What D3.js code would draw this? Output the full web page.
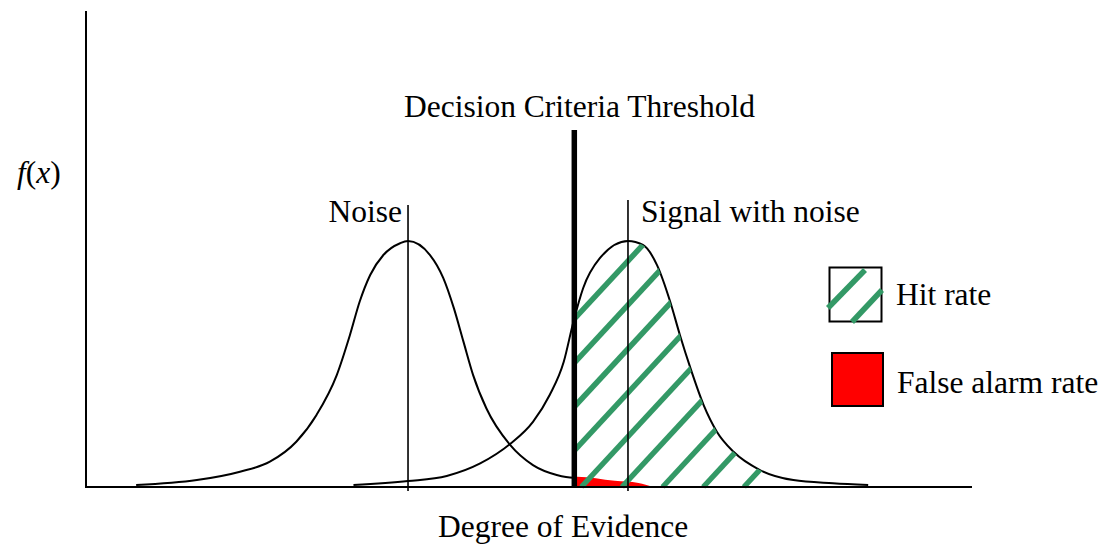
<!DOCTYPE html>
<html>
<head>
<meta charset="utf-8">
<script src="https://cdn.jsdelivr.net/npm/d3@7"></script>
<style>
  html, body { margin: 0; padding: 0; background: #ffffff; }
  svg { display: block; }
</style>
</head>
<body>
<svg id="chart" width="1104" height="545"></svg>
<script>
// ---- data (evidence in units where noise mean = 0; density normalised to peak = 1) ----
const noiseEvidence = [-3.09, -2.40, -1.91, -1.57, -1.27, -1.04, -0.81, -0.66, -0.55, -0.43, -0.28, -0.09, 0.00,
                        0.25, 0.40, 0.52, 0.63, 0.74, 0.89, 1.16, 1.42, 1.69, 1.88, 1.92, 2.35, 2.62, 2.78];
const noiseDensity  = [0.008, 0.028, 0.062, 0.103, 0.184, 0.293, 0.455, 0.618, 0.753, 0.862, 0.943, 0.991, 1.000,
                        0.943, 0.850, 0.728, 0.591, 0.455, 0.320, 0.171, 0.089, 0.049, 0.038, 0.042, 0.025, 0.016, 0.000];
const signalEvidence = [-0.62, 0.00, 0.44, 0.82, 1.16, 1.42, 1.61, 1.77, 1.88, 1.99, 2.18, 2.50,
                         2.67, 2.83, 2.98, 3.09, 3.21, 3.36, 3.51, 3.70, 4.00, 4.38, 4.83, 5.23];
const signalDensity  = [0.008, 0.024, 0.045, 0.096, 0.175, 0.265, 0.374, 0.509, 0.672, 0.808, 0.930, 1.000,
                         0.984, 0.902, 0.753, 0.618, 0.483, 0.333, 0.225, 0.143, 0.069, 0.028, 0.015, 0.008];
const noiseMean = 0.0;
const signalMean = 2.5;
const threshold = 1.89;
const xDomain = [-3.66, 6.41];
const yDomain = [0, 1.0];
const labels = {
  threshold: "Decision Criteria Threshold",
  noise: "Noise",
  signal: "Signal with noise",
  xTitle: "Degree of Evidence",
  hit: "Hit rate",
  fa: "False alarm rate"
};

// ---- layout ----
const svg = d3.select("#chart");
const x = d3.scaleLinear().domain(xDomain).range([86, 972]);
const y = d3.scaleLinear().domain(yDomain).range([487, 241]);
const yTopAxis = 11;
const green = "#339966";
const fontSize = 31.5;
const fontFamily = "'Liberation Serif', 'Times New Roman', 'DejaVu Serif', serif";

const noise = noiseEvidence.map((e, i) => ({ e, d: noiseDensity[i] }));
const signal = signalEvidence.map((e, i) => ({ e, d: signalDensity[i] }));

const line = d3.line().x(p => x(p.e)).y(p => y(p.d)).curve(d3.curveMonotoneX);
const area = d3.area().x(p => x(p.e)).y0(y(0)).y1(p => y(p.d)).curve(d3.curveMonotoneX);

const defs = svg.append("defs");
defs.append("clipPath").attr("id", "leftOfT")
  .append("rect").attr("x", 0).attr("y", 0).attr("width", x(threshold)).attr("height", 545);
defs.append("clipPath").attr("id", "rightOfT")
  .append("rect").attr("x", x(threshold)).attr("y", 0).attr("width", 1104 - x(threshold)).attr("height", y(0) + 1.5);
defs.append("clipPath").attr("id", "underSignal")
  .append("path").attr("d", area.y0(y(0) + 2)(signal));
area.y0(y(0));

// noise curve (line only left of threshold)
svg.append("path").datum(noise)
  .attr("d", line).attr("fill", "none").attr("stroke", "#000").attr("stroke-width", 2)
  .attr("clip-path", "url(#leftOfT)");

// false alarm area (noise right of threshold)
svg.append("g").attr("clip-path", "url(#rightOfT)")
  .append("path").datum(noise)
  .attr("d", area).attr("fill", "#ff0000");

// signal curve
svg.append("path").datum(signal)
  .attr("d", line).attr("fill", "none").attr("stroke", "#000").attr("stroke-width", 2);

// hit-rate hatch
const slope = 1.08;
const spacing = 40.65;
const hatchG = svg.append("g").attr("clip-path", "url(#rightOfT)")
  .append("g").attr("clip-path", "url(#underSignal)");
const x0 = x(threshold) + 7;
const hatchIdx = d3.range(-4, 5);
hatchG.selectAll("line").data(hatchIdx).join("line")
  .attr("x1", k => x0 + k * spacing)
  .attr("y1", y(0))
  .attr("x2", k => x0 + k * spacing + 300)
  .attr("y2", y(0) - 300 * slope)
  .attr("stroke", green).attr("stroke-width", 5.5);

// axes
svg.append("line").attr("x1", 86).attr("x2", 86).attr("y1", yTopAxis).attr("y2", y(0))
  .attr("stroke", "#000").attr("stroke-width", 2);
svg.append("line").attr("x1", 85).attr("x2", 972).attr("y1", y(0)).attr("y2", y(0))
  .attr("stroke", "#000").attr("stroke-width", 2);

// mean lines
svg.append("line").attr("x1", x(noiseMean)).attr("x2", x(noiseMean)).attr("y1", 205).attr("y2", y(0) + 4)
  .attr("stroke", "#000").attr("stroke-width", 1.6);
svg.append("line").attr("x1", x(signalMean)).attr("x2", x(signalMean)).attr("y1", 200).attr("y2", y(0) + 4)
  .attr("stroke", "#000").attr("stroke-width", 1.6);

// threshold
svg.append("line").attr("x1", x(threshold)).attr("x2", x(threshold)).attr("y1", 130).attr("y2", y(0))
  .attr("stroke", "#000").attr("stroke-width", 5.5);

// texts
function txt(g, xx, yy, s, anchor) {
  return g.append("text").attr("x", xx).attr("y", yy)
    .attr("font-family", fontFamily).attr("font-size", fontSize)
    .attr("text-anchor", anchor || "start").attr("fill", "#000").text(s);
}
txt(svg, 404, 117, labels.threshold);
txt(svg, x(noiseMean) - 6, 222, labels.noise, "end");
txt(svg, 641, 222, labels.signal);
txt(svg, 438, 537, labels.xTitle);
const fx = svg.append("text").attr("x", 17).attr("y", 183)
  .attr("font-family", fontFamily).attr("font-size", fontSize).attr("fill", "#000");
fx.append("tspan").attr("font-style", "italic").text("f");
fx.append("tspan").text("(");
fx.append("tspan").attr("font-style", "italic").text("x");
fx.append("tspan").text(")");

// legend
const lg = svg.append("g");
lg.append("rect").attr("x", 829.5).attr("y", 267.5).attr("width", 52).attr("height", 54)
  .attr("fill", "#fff").attr("stroke", "#000").attr("stroke-width", 2);
lg.append("line").attr("x1", 828).attr("y1", 308).attr("x2", 865).attr("y2", 270)
  .attr("stroke", green).attr("stroke-width", 5.5);
lg.append("line").attr("x1", 852).attr("y1", 322).attr("x2", 882).attr("y2", 290)
  .attr("stroke", green).attr("stroke-width", 5.5);
txt(lg, 896, 305, labels.hit);
lg.append("rect").attr("x", 832).attr("y", 353).attr("width", 51).attr("height", 53)
  .attr("fill", "#ff0000").attr("stroke", "#000").attr("stroke-width", 2);
txt(lg, 897, 393, labels.fa);
</script>
</body>
</html>
